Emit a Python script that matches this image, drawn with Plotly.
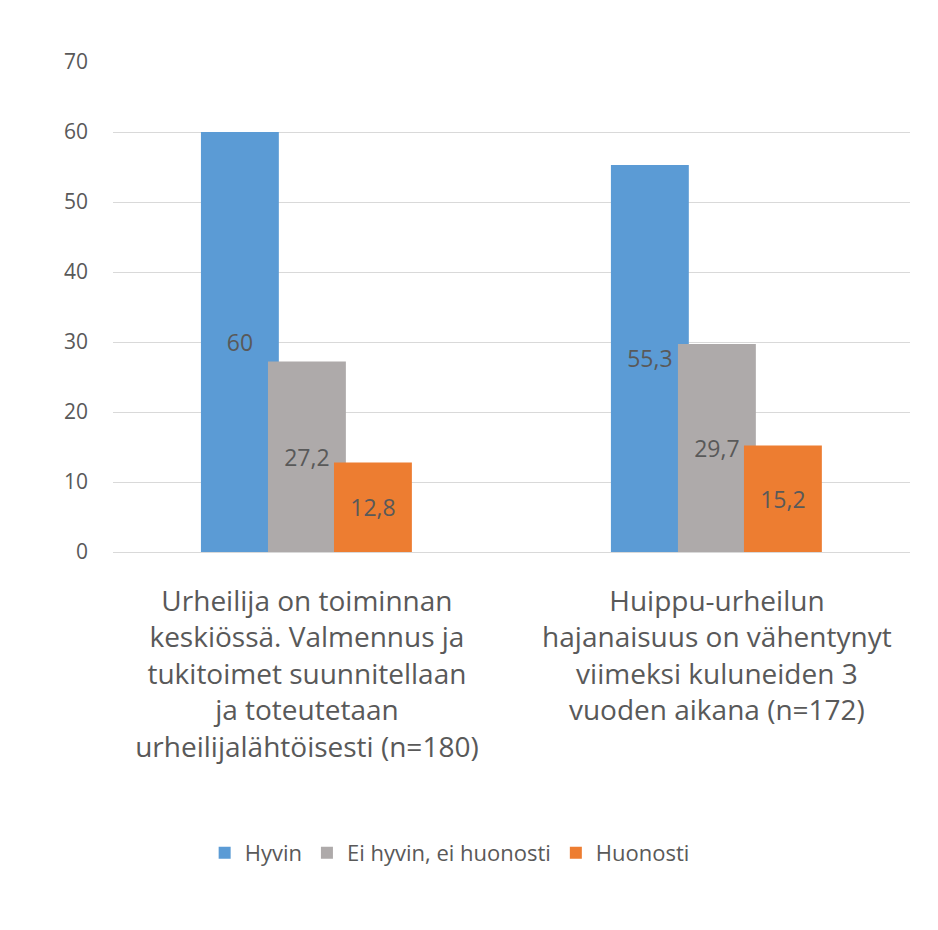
import plotly.graph_objects as go

categories = [
    "Urheilija on toiminnan<br>keskiössä. Valmennus ja<br>tukitoimet suunnitellaan<br>ja toteutetaan<br>urheilijalähtöisesti (n=180)",
    "Huippu-urheilun<br>hajanaisuus on vähentynyt<br>viimeksi kuluneiden 3<br>vuoden aikana (n=172)",
]
series_names = ["Hyvin", "Ei hyvin, ei huonosti", "Huonosti"]
hyvin = [60, 55.3]
ei_hyvin_ei_huonosti = [27.2, 29.7]
huonosti = [12.8, 15.2]
y_ticks = [0, 10, 20, 30, 40, 50, 60, 70]

colors = ["#5B9BD5", "#AEAAAA", "#ED7D31"]
offsets = [-0.2585, -0.095, 0.066]
width = 0.19
FONT = "Open Sans"

def fmt(v):
    return f"{v:g}".replace(".", ",")

fig = go.Figure()
for name, vals, col, off in zip(series_names, [hyvin, ei_hyvin_ei_huonosti, huonosti], colors, offsets):
    fig.add_trace(go.Bar(
        x=categories, y=vals, name=name,
        marker=dict(color=col, line=dict(width=0)),
        offset=off, width=width,
        text=[fmt(v) for v in vals],
        textposition="inside", insidetextanchor="middle",
        constraintext="none",
        textfont=dict(family=FONT, size=23, color="#595959"),
        hoverinfo="skip",
    ))

fig.update_layout(
    barmode="overlay",
    width=938, height=930,
    paper_bgcolor="white", plot_bgcolor="white",
    margin=dict(l=105, r=36, t=54, b=386),
    font=dict(family=FONT, color="#595959"),
    showlegend=True,
    legend=dict(
        orientation="h", x=0.115, xanchor="left", y=-0.614, yanchor="middle",
        font=dict(family=FONT, size=22, color="#595959"),
        traceorder="normal", itemwidth=30,
    ),
    xaxis=dict(
        type="category", range=[-0.473, 1.471],
        showgrid=False, showline=False, zeroline=False,
        ticks="", ticklabelstandoff=30,
        tickfont=dict(family=FONT, size=28, color="#595959"),
    ),
    yaxis=dict(
        range=[0, 70], tickvals=y_ticks,
        showgrid=True, gridcolor="#D9D9D9", gridwidth=1.3,
        zeroline=True, zerolinecolor="#D9D9D9", zerolinewidth=1.3,
        showline=False, ticks="", ticklabelstandoff=24,
        tickfont=dict(family=FONT, size=21, color="#595959"),
    ),
)

fig.write_html("out.html")
